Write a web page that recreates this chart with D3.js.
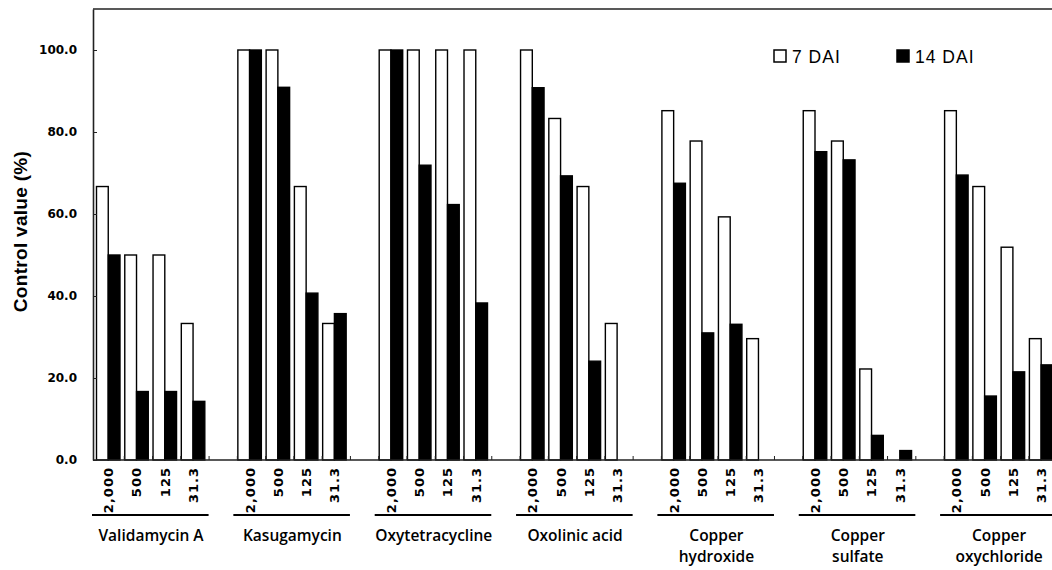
<!DOCTYPE html>
<html lang="en">
<head>
    <meta charset="UTF-8">
    <title>Control value</title>
    <script src="https://d3js.org/d3.v7.min.js"></script>
    <style>
        body { margin: 0; background: #fff; }
        svg { display: block; }
    </style>
</head>
<body>
    <svg width="1052" height="570"></svg>
    <script>
        const groups = ["Validamycin A", "Kasugamycin", "Oxytetracycline", "Oxolinic acid", "Copper hydroxide", "Copper sulfate", "Copper oxychloride"];
        const doses = ["2,000", "500", "125", "31.3"];
        const series = ["7 DAI", "14 DAI"];
        // one row per group, one value per dose
        const dai7 = [
            [66.7, 50.0, 50.0, 33.3],
            [100, 100, 66.7, 33.3],
            [100, 100, 100, 100],
            [100, 83.3, 66.7, 33.3],
            [85.2, 77.8, 59.3, 29.6],
            [85.2, 77.8, 22.2, 0],
            [85.2, 66.7, 51.9, 29.6]
        ];
        const dai14 = [
            [50.0, 16.7, 16.7, 14.3],
            [100, 90.9, 40.7, 35.7],
            [100, 71.9, 62.3, 38.3],
            [90.8, 69.3, 24.1, 0],
            [67.5, 31.0, 33.1, 0],
            [75.2, 73.2, 6.0, 2.3],
            [69.5, 15.6, 21.5, 23.2]
        ];
        const yTicks = [0, 20, 40, 60, 80, 100];

        const svg = d3.select("svg");
        const axisX = 93, plotTop = 9, plotBottom = 460, slotW = 28.27;
        const nSlots = groups.length * 5 - 1;

        const y = d3.scaleLinear().domain([0, 110]).range([plotBottom, plotTop]);
        const x = d3.scaleBand().domain(d3.range(nSlots)).range([95.5, 95.5 + nSlots * slotW]).padding(0);
        const xi = d3.scaleLinear().domain([0, nSlots]).range(x.range());
        const x1 = d3.scaleBand().domain(series).range([1, 24.5]);

        const rows = [];
        groups.forEach((g, gi) => {
            doses.forEach((d, di) => {
                rows.push({ slot: gi * 5 + di, dose: d, values: [dai7[gi][di], dai14[gi][di]] });
            });
        });

        // frame top line
        svg.append("line").attr("x1", axisX).attr("x2", 1052).attr("y1", plotTop).attr("y2", plotTop)
            .attr("stroke", "#222").attr("stroke-width", 1.6);

        // bars
        const slot = svg.append("g").selectAll("g").data(rows).enter().append("g")
            .attr("transform", d => `translate(${x(d.slot)},0)`);
        slot.selectAll("rect").data(d => d.values.map((v, i) => ({ key: series[i], v: v })))
            .enter().append("rect")
            .attr("x", d => x1(d.key))
            .attr("width", x1.bandwidth())
            .attr("y", d => y(d.v))
            .attr("height", d => y(0) - y(d.v))
            .attr("fill", d => d.key === "7 DAI" ? "#fff" : "#000")
            .attr("stroke", "#000")
            .attr("stroke-width", d => d.v > 0 ? 1.4 : 0);

        // y axis
        const ya = svg.append("g").attr("transform", `translate(${axisX},0)`)
            .call(d3.axisLeft(y).tickValues(yTicks).tickSizeInner(-4).tickSizeOuter(0)
                .tickPadding(16).tickFormat(d3.format(".1f")));
        ya.select(".domain").attr("stroke", "#222").attr("stroke-width", 1.6);
        ya.selectAll(".tick line").attr("stroke", "#222");
        ya.selectAll("text").attr("font-family", "DejaVu Sans").attr("font-weight", "bold")
            .attr("font-size", 12).attr("fill", "#000");

        // x axis
        const xa = svg.append("g").attr("transform", `translate(0,${plotBottom})`)
            .call(d3.axisBottom(xi).tickValues(d3.range(1, nSlots + 1)).tickSizeInner(-4)
                .tickSizeOuter(0).tickFormat(""));
        xa.select(".domain").remove();
        xa.selectAll(".tick line").attr("stroke", "#222");
        xa.append("line").attr("x1", axisX).attr("x2", 1052).attr("y1", 0).attr("y2", 0)
            .attr("stroke", "#222").attr("stroke-width", 1.6);

        // dose labels
        svg.append("g").selectAll("text").data(rows).enter().append("text")
            .attr("transform", d => `translate(${x(d.slot) + x.bandwidth() / 2 - 1},${plotBottom + 7}) rotate(-90)`)
            .attr("text-anchor", "end")
            .attr("dy", "0.35em")
            .attr("font-family", "DejaVu Sans").attr("font-weight", "bold")
            .attr("font-size", 13).attr("letter-spacing", 1)
            .text(d => d.dose);

        // group underlines and names
        const gl = svg.append("g").selectAll("g").data(groups).enter().append("g")
            .attr("transform", (d, i) => `translate(${x(i * 5)},0)`);
        gl.append("line").attr("x1", -3.5).attr("x2", 4 * slotW).attr("y1", 515).attr("y2", 515)
            .attr("stroke", "#000").attr("stroke-width", 2);
        gl.each(function (d) {
            const lines = d.startsWith("Copper") ? d.split(" ") : [d];
            lines.forEach((t, i) => {
                d3.select(this).append("text")
                    .attr("x", 2 * slotW - 1)
                    .attr("y", 541 + i * 20.5)
                    .attr("text-anchor", "middle")
                    .attr("font-family", "Open Sans").attr("font-weight", 600)
                    .attr("font-size", 15.5).attr("fill", "#000")
                    .text(t);
            });
        });

        // y title
        svg.append("text")
            .attr("transform", `translate(27,${(plotTop + plotBottom) / 2 - 3}) rotate(-90)`)
            .attr("text-anchor", "middle")
            .attr("font-family", "Liberation Sans").attr("font-weight", "bold").attr("font-size", 19)
            .attr("letter-spacing", 0.3)
            .text("Control value (%)");

        // legend
        const legendX = [774, 897];
        const lg = svg.append("g").selectAll("g").data(series).enter().append("g")
            .attr("transform", (d, i) => `translate(${legendX[i]},50)`);
        lg.append("rect").attr("width", 12).attr("height", 12)
            .attr("fill", (d, i) => i === 0 ? "#fff" : "#000")
            .attr("stroke", "#000").attr("stroke-width", 1.5);
        lg.append("text").attr("x", 18).attr("y", 12.5)
            .attr("font-family", "Liberation Sans").attr("font-size", 17.5).attr("letter-spacing", 1)
            .text(d => d);
    </script>
</body>
</html>
